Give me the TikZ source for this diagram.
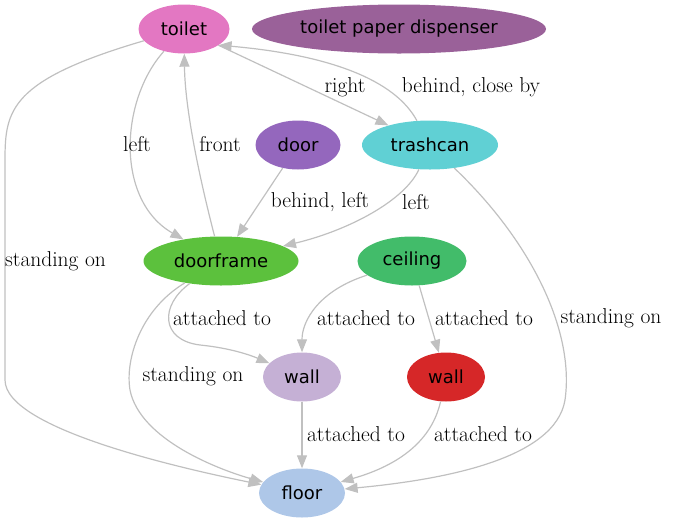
\documentclass[tikz,border=0pt]{standalone}
\usepackage{fontspec}
\newfontfamily\objfont{DejaVu Sans}
\usetikzlibrary{shapes.geometric,arrows.meta}

\definecolor{toiletpink}{HTML}{E377C2}
\definecolor{dispenserplum}{HTML}{9A6199}
\definecolor{doorpurple}{HTML}{9467BD}
\definecolor{trashcyan}{HTML}{60D0D4}
\definecolor{framegreen}{HTML}{5CC13D}
\definecolor{ceilinggreen}{HTML}{42BC6A}
\definecolor{walllilac}{HTML}{C5B0D5}
\definecolor{wallred}{HTML}{D62728}
\definecolor{floorblue}{HTML}{AEC7E8}
\definecolor{relgray}{HTML}{C0C0C0}

\def\objh{49pt}

\begin{document}
\begin{tikzpicture}[x=1pt,y=-1pt]
	\tikzstyle{object}=[ellipse,inner sep=0pt,minimum height=\objh,font=\objfont\fontsize{18}{20}\selectfont]
	\tikzstyle{relation}=[draw=relgray,line width=1.2pt,-{Triangle[length=13pt,width=10pt]}]
	\tikzstyle{annot}=[inner sep=0pt,font=\fontsize{21.5}{24}\selectfont]
	
	\useasboundingbox (0,0) rectangle (673,523);
	
	% Draw the object nodes
	\node[object, fill=toiletpink, minimum width=91pt] (toilet) at (184,29) {toilet};
	\node[object, fill=dispenserplum, minimum width=294pt] (dispenser) at (399,29) {toilet paper dispenser};
	\node[object, fill=doorpurple, minimum width=85pt] (door) at (298,145) {door};
	\node[object, fill=trashcyan, minimum width=136pt] (trashcan) at (430,145) {trashcan};
	\node[object, fill=framegreen, minimum width=155pt] (doorframe) at (221,261) {doorframe};
	\node[object, fill=ceilinggreen, minimum width=109pt] (ceiling) at (412,261) {ceiling};
	\node[object, fill=walllilac, minimum width=78pt] (wall-1) at (302,377) {wall};
	\node[object, fill=wallred, minimum width=78pt] (wall-2) at (446,377) {wall};
	\node[object, fill=floorblue, minimum width=86pt] (floor) at (302,493) {floor};
	
	% Relations leaving the toilet
	\draw[relation] (toilet) .. controls (10,80) and (5,110) .. (5,160) -- (5,380)
		.. controls (5,430) and (190,470) .. (floor);
	\draw[relation] (toilet) .. controls (120,100) and (115,200) .. (doorframe);
	\draw[relation] (toilet) -- (trashcan);
	
	% Relations leaving the trashcan
	\draw[relation] (trashcan) .. controls (395,80) and (330,55) .. (toilet.-25);
	\draw[relation] (trashcan) .. controls (405,200) and (350,230) .. (doorframe);
	\draw[relation] (trashcan) .. controls (530,240) and (575,330) .. (565,400)
		.. controls (555,460) and (440,480) .. (floor);
	
	% Relations leaving the door and the doorframe
	\draw[relation] (door) -- (doorframe);
	\draw[relation] (doorframe) .. controls (200,180) and (185,110) .. (toilet);
	\draw[relation] (doorframe) .. controls (160,305) and (160,340) .. (200,345)
		.. controls (230,348) and (250,355) .. (wall-1);
	\draw[relation] (doorframe) .. controls (140,310) and (125,360) .. (130,390)
		.. controls (140,440) and (220,470) .. (floor);
	
	% Relations leaving the ceiling and the walls
	\draw[relation] (ceiling) .. controls (320,290) and (302,320) .. (wall-1);
	\draw[relation] (ceiling) -- (wall-2);
	\draw[relation] (wall-1) -- (floor);
	\draw[relation] (wall-2) .. controls (432,440) and (400,465) .. (floor);
	
	% Annotate the relations
	\node[annot] (L-1) at (345,87) {right};
	\node[annot] (L-2) at (471,87) {behind, close by};
	\node[annot] (L-3) at (137,144) {left};
	\node[annot] (L-4) at (220,144) {front};
	\node[annot] (L-5) at (320,202) {behind, left};
	\node[annot] (L-6) at (416,202) {left};
	\node[annot, anchor=west] (L-7) at (5,261) {standing on};
	\node[annot] (L-8) at (222,318) {attached to};
	\node[annot] (L-9) at (366,318) {attached to};
	\node[annot] (L-10) at (484,318) {attached to};
	\node[annot] (L-11) at (611,318) {standing on};
	\node[annot] (L-12) at (193,376) {standing on};
	\node[annot] (L-13) at (356,434) {attached to};
	\node[annot] (L-14) at (483,434) {attached to};
	
\end{tikzpicture}
\end{document}
